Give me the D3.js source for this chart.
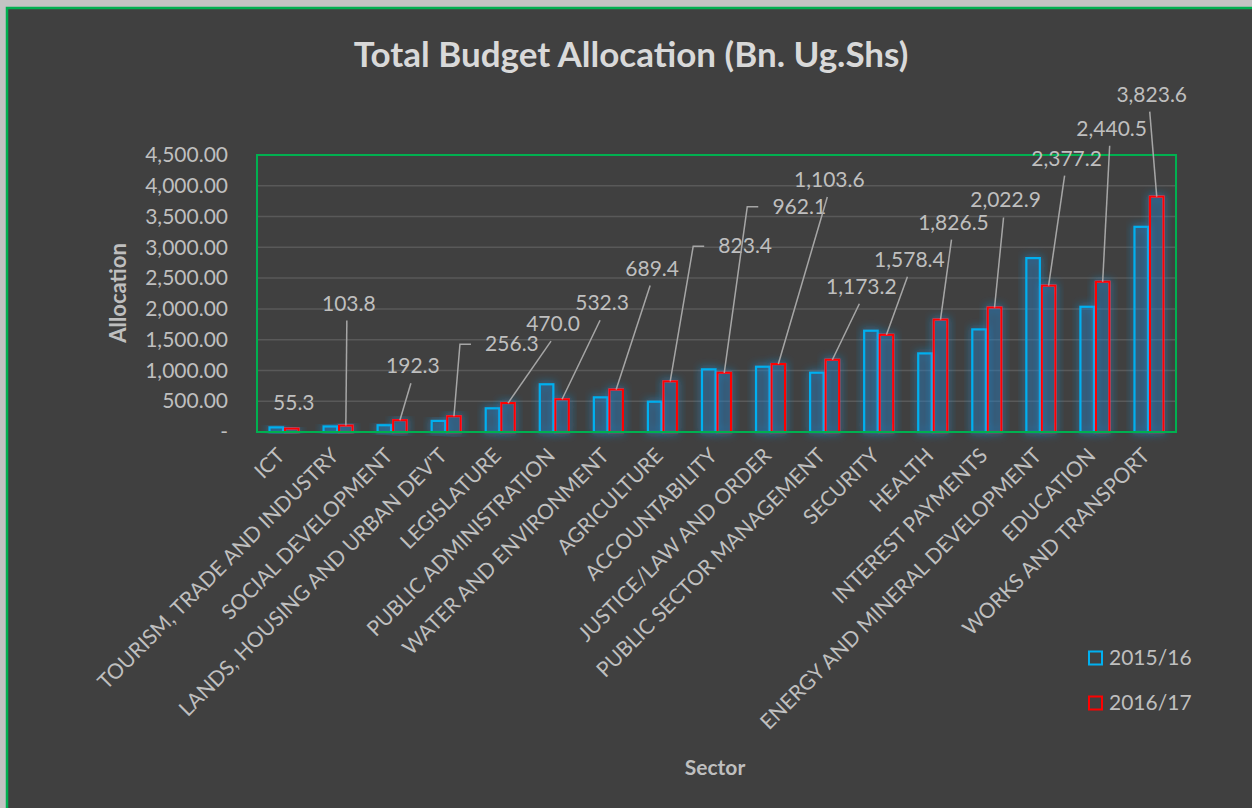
<!DOCTYPE html>
<html>
<head>
<meta charset="utf-8">
<script src="https://cdn.jsdelivr.net/npm/d3@7"></script>
<style>
  body { margin: 0; background: #c3c3c3; }
  text { font-family: Lato, "Open Sans", sans-serif; }
</style>
</head>
<body>
<div class="chart"></div>
<script>
var sectors = ["ICT", "TOURISM, TRADE AND INDUSTRY", "SOCIAL DEVELOPMENT", "LANDS, HOUSING AND URBAN DEV'T",
    "LEGISLATURE", "PUBLIC ADMINISTRATION", "WATER AND ENVIRONMENT", "AGRICULTURE", "ACCOUNTABILITY",
    "JUSTICE/LAW AND ORDER", "PUBLIC SECTOR MANAGEMENT", "SECURITY", "HEALTH", "INTEREST PAYMENTS",
    "ENERGY AND MINERAL DEVELOPMENT", "EDUCATION", "WORKS AND TRANSPORT"];
var alloc1516 = [75, 90, 110, 180, 385, 775, 563, 492, 1018, 1060, 963, 1645, 1277, 1667, 2825, 2034, 3333];
var alloc1617 = [55.3, 103.8, 192.3, 256.3, 470.0, 532.3, 689.4, 823.4, 962.1, 1103.6, 1173.2, 1578.4, 1826.5, 2022.9, 2377.2, 2440.5, 3823.6];
var yTicks = [0, 500, 1000, 1500, 2000, 2500, 3000, 3500, 4000, 4500];
var seriesNames = ["2015/16", "2016/17"];

// manual label placement (offset of label centre from top of 2016/17 bar) and hook flag
var labelOffsets = [[2, -26, 0], [3, -122, 0], [13, -54, 0], [58, -72, 1], [45, -79, 0], [40, -96, 0],
    [36, -121, 0], [75, -135, 1], [75, -166, 1], [51, -184, 0], [29, -73, 0], [23, -75, 0], [13, -97, 0],
    [11, -107, 0], [18, -127, 0], [9, -153, 0], [-5, -102, 0]];

var W = 1252, H = 808;
var margin = ({top: 155, right: 76, bottom: 376, left: 257});
var width = W - margin.left - margin.right,
    height = H - margin.top - margin.bottom;

var svg = d3.select(".chart").append("svg")
    .attr("width", W)
    .attr("height", H);

var defs = svg.append("defs");
var glow = defs.append("filter").attr("id", "glow")
    .attr("x", "-60%").attr("y", "-30%").attr("width", "220%").attr("height", "160%");
glow.append("feMorphology").attr("in", "SourceAlpha").attr("operator", "dilate").attr("radius", 1).attr("result", "d");
glow.append("feGaussianBlur").attr("in", "d").attr("stdDeviation", 4).attr("result", "b");
glow.append("feFlood").attr("flood-color", "#1f8fd6").attr("flood-opacity", 0.6);
glow.append("feComposite").attr("in2", "b").attr("operator", "in").attr("result", "g");
var mg = glow.append("feMerge");
mg.append("feMergeNode").attr("in", "g");
mg.append("feMergeNode").attr("in", "SourceGraphic");

// chart area
svg.append("rect")
    .attr("x", 7).attr("y", 8)
    .attr("width", W + 10).attr("height", H + 10)
    .attr("fill", "#404040")
    .attr("stroke", "#00b050")
    .attr("stroke-width", 2.5);

svg.append("text")
    .attr("x", 631).attr("y", 67)
    .attr("text-anchor", "middle")
    .attr("font-size", 35).attr("font-weight", "bold")
    .attr("fill", "#d9d9d9")
    .text("Total Budget Allocation (Bn. Ug.Shs)");

var g = svg.append("g")
    .attr("transform", "translate(" + margin.left + "," + margin.top + ")");

var x = d3.scaleBand().domain(sectors).range([0, width]);
var barW = x.bandwidth() * 0.287;
var y = d3.scaleLinear().domain([0, 4500]).range([height, 0]);

// gridlines
g.append("g").selectAll("line")
    .data(yTicks.slice(1, -1))
    .join("line")
    .attr("x1", 0).attr("x2", width)
    .attr("y1", d => y(d)).attr("y2", d => y(d))
    .attr("stroke", "#595959").attr("stroke-width", 1.5);

// y axis labels
var yAxis = g.append("g")
    .call(d3.axisLeft(y).tickValues(yTicks).tickSize(0).tickPadding(29)
        .tickFormat(d => d === 0 ? "-" : d3.format(",.2f")(d)));
yAxis.select(".domain").remove();
yAxis.selectAll("text").attr("font-size", 21).attr("fill", "#bfbfbf")
    .attr("font-family", "Lato, 'Open Sans', sans-serif");

// bars
var series = [alloc1516, alloc1617];
var colors = ["#00b0f0", "#ff0000"];
series.forEach((vals, s) => {
    g.append("g").selectAll("rect")
        .data(vals)
        .join("rect")
        .attr("x", (d, i) => x(sectors[i]) + x.bandwidth() / 2 - barW + s * barW + 1)
        .attr("y", d => y(d))
        .attr("width", barW - 2)
        .attr("height", d => height - y(d))
        .attr("fill", "rgba(31,120,190,0.22)")
        .attr("stroke", colors[s])
        .attr("stroke-width", 2.2)
        .attr("filter", "url(#glow)");
});

// plot border
g.append("rect")
    .attr("width", width).attr("height", height)
    .attr("fill", "none")
    .attr("stroke", "#00b050").attr("stroke-width", 2);

// data labels with leader lines
var labels = g.append("g");
alloc1617.forEach((v, i) => {
    var bx = x(sectors[i]) + x.bandwidth() / 2 + barW / 2;
    var by = y(v);
    var off = labelOffsets[i];
    var lx = bx + off[0], ly = by + off[1];
    labels.append("text")
        .attr("x", lx).attr("y", ly + 7)
        .attr("text-anchor", "middle")
        .attr("font-size", 21).attr("fill", "#bfbfbf")
        .text(d3.format(",.1f")(v));
    if (i === 0) return;
    var pts;
    if (off[2]) {
        var hx = lx - 41;
        pts = [[hx, ly], [hx - 11, ly], [bx, by]];
    } else {
        pts = [[lx - 2, ly + 17], [bx, by]];
    }
    labels.append("path")
        .attr("d", d3.line()(pts))
        .attr("fill", "none")
        .attr("stroke", "#a6a6a6").attr("stroke-width", 1.5);
});

// category labels
g.append("g").selectAll("text")
    .data(sectors)
    .join("text")
    .attr("transform", d => "translate(" + (x(d) + x.bandwidth() / 2 + 2) + "," + (height + 25) + ") rotate(-45)")
    .attr("text-anchor", "end")
    .attr("font-size", 21).attr("fill", "#bfbfbf")
    .text(d => d);

// axis titles
svg.append("text")
    .attr("transform", "translate(126,293) rotate(-90)")
    .attr("text-anchor", "middle")
    .attr("font-size", 22).attr("font-weight", "bold").attr("fill", "#bfbfbf")
    .text("Allocation");
svg.append("text")
    .attr("x", 715).attr("y", 775)
    .attr("text-anchor", "middle")
    .attr("font-size", 21).attr("font-weight", "bold").attr("fill", "#bfbfbf")
    .text("Sector");

// legend
var legend = svg.append("g");
seriesNames.forEach((n, s) => {
    var ly = 658 + s * 45;
    legend.append("rect")
        .attr("x", 1089).attr("y", ly - 6.5)
        .attr("width", 13).attr("height", 13)
        .attr("fill", "none").attr("stroke", colors[s]).attr("stroke-width", 2);
    legend.append("text")
        .attr("x", 1109).attr("y", ly + 7)
        .attr("font-size", 21).attr("fill", "#bfbfbf")
        .text(n);
});
</script>
</body>
</html>
